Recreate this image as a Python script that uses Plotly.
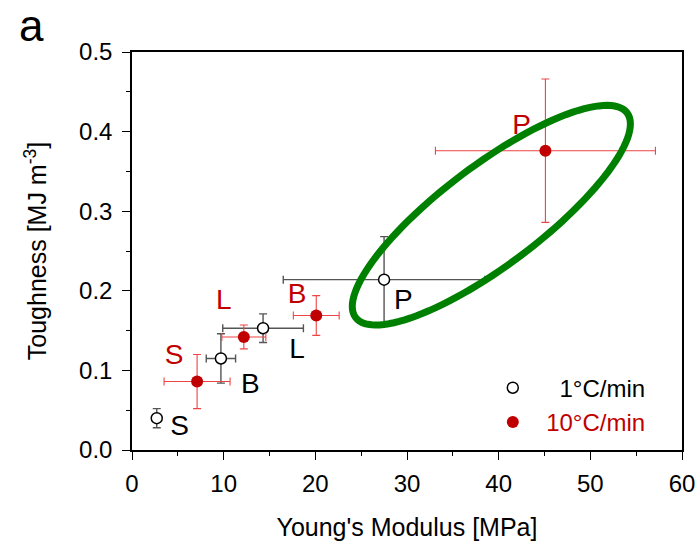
import numpy as np
import plotly.graph_objects as go

# ---- data ----
labels = ["S", "B", "L", "P"]
slow_modulus = [2.7, 9.7, 14.3, 27.5]        # 1°C/min, MPa
slow_modulus_err = [0.0, 1.6, 4.4, 11.0]
slow_tough = [0.040, 0.115, 0.153, 0.214]    # MJ m^-3
slow_tough_err = [0.012, 0.031, 0.018, 0.054]

fast_modulus = [7.1, 20.1, 12.2, 45.1]       # 10°C/min (S, B, L, P)
fast_modulus_err = [3.6, 2.5, 2.4, 12.0]
fast_tough = [0.086, 0.169, 0.142, 0.376]
fast_tough_err = [0.034, 0.025, 0.015, 0.090]

# label positions (data units)
slow_label_x = [5.2, 12.9, 18.0, 29.6]
slow_label_y = [0.028, 0.081, 0.125, 0.186]
fast_label_x = [4.6, 18.0, 10.0, 42.5]
fast_label_y = [0.117, 0.194, 0.186, 0.406]

x_range = [0, 60]
y_range = [0, 0.5]

# highlight ellipse (data-unit centre, pixel semi-axes, rotation)
ell_cx, ell_cy = 39.2, 0.295
ell_a_px, ell_b_px, ell_rot_deg = 170, 50, 37

# ---- layout geometry ----
W, H = 699, 544
ML, MR, MT, MB = 132, 17, 52, 94
pw, ph = W - ML - MR, H - MT - MB
sx = pw / (x_range[1] - x_range[0])
sy = ph / (y_range[1] - y_range[0])

DARK_RED = "#c00000"
FONT = "Liberation Sans, Arial, sans-serif"
NB = "\u00a0"

fig = go.Figure()

# text labels (as traces so the ellipse can cover them)
fig.add_trace(go.Scatter(
    x=slow_label_x, y=slow_label_y, mode="text", text=labels,
    textfont=dict(family=FONT, size=28, color="black"),
    showlegend=False, hoverinfo="skip"))
fig.add_trace(go.Scatter(
    x=fast_label_x, y=fast_label_y, mode="text", text=labels,
    textfont=dict(family=FONT, size=28, color=DARK_RED),
    showlegend=False, hoverinfo="skip"))

fig.add_trace(go.Scatter(
    x=slow_modulus, y=slow_tough, mode="markers",
    name=NB * 4 + "1°C/min",
    marker=dict(symbol="circle", size=11, color="white",
                line=dict(color="black", width=1.5)),
    error_x=dict(type="data", array=slow_modulus_err, color="#555555",
                 thickness=1.4, width=4),
    error_y=dict(type="data", array=slow_tough_err, color="#555555",
                 thickness=1.4, width=4)))

fig.add_trace(go.Scatter(
    x=fast_modulus, y=fast_tough, mode="markers",
    name=NB * 2 + f"<span style='color:{DARK_RED}'>10°C/min</span>",
    marker=dict(symbol="circle", size=12, color=DARK_RED,
                line=dict(color=DARK_RED, width=0)),
    error_x=dict(type="data", array=fast_modulus_err, color="#ee4444",
                 thickness=1.1, width=4),
    error_y=dict(type="data", array=fast_tough_err, color="#ee4444",
                 thickness=1.1, width=4)))

# ellipse path in data coordinates
t = np.linspace(0, 2 * np.pi, 121)
th = np.deg2rad(ell_rot_deg)
ex = ell_cx + (ell_a_px * np.cos(t) * np.cos(th) - ell_b_px * np.sin(t) * np.sin(th)) / sx
ey = ell_cy + (ell_a_px * np.cos(t) * np.sin(th) + ell_b_px * np.sin(t) * np.cos(th)) / sy
path = "M " + " L ".join(f"{a:.4f},{b:.5f}" for a, b in zip(ex, ey)) + " Z"
fig.add_shape(type="path", path=path, xref="x", yref="y",
              line=dict(color="#008000", width=7), layer="above")

fig.add_annotation(text="a", xref="paper", yref="paper", x=-0.183, y=(H - MB) / ph - 0.0,
                   xanchor="center", yanchor="top", showarrow=False, borderpad=0,
                   font=dict(family=FONT, size=44, color="black"))

axis_common = dict(
    showgrid=False, zeroline=False, showline=True, linecolor="black",
    linewidth=1.5, mirror=True, ticks="outside", tickcolor="black",
    tickwidth=1.3, ticklen=8, automargin=False,
    tickfont=dict(family=FONT, size=24, color="black"),
)

fig.update_xaxes(
    range=x_range, dtick=10, tick0=0,
    minor=dict(dtick=5, ticks="outside", ticklen=4, tickcolor="black", tickwidth=1.3),
    title=dict(text="Young's Modulus [MPa]", font=dict(family=FONT, size=25, color="black"),
               standoff=23),
    ticklabelstandoff=3, ticklabeloverflow="allow", **axis_common)
fig.update_yaxes(
    range=y_range, dtick=0.1, tick0=0, tickformat=".1f",
    minor=dict(dtick=0.05, ticks="outside", ticklen=4, tickcolor="black", tickwidth=1.3),
    title=dict(text="Toughness [MJ m<sup>-3</sup>]", font=dict(family=FONT, size=25, color="black"),
               standoff=25),
    ticklabelstandoff=5, **axis_common)

fig.update_layout(
    width=W, height=H, margin=dict(l=ML, r=MR, t=MT, b=MB, autoexpand=False),
    paper_bgcolor="white", plot_bgcolor="white",
    legend=dict(x=0.656, y=0.212, xanchor="left", yanchor="top",
                font=dict(family=FONT, size=24, color="black"),
                bgcolor="rgba(0,0,0,0)", itemwidth=30, tracegroupgap=0),
    showlegend=True,
    hovermode=False,
)

fig.write_html(
    "out.html",
    config={"displayModeBar": False},
    post_script="document.body.style.margin='0';document.body.style.overflow='hidden';",
)
